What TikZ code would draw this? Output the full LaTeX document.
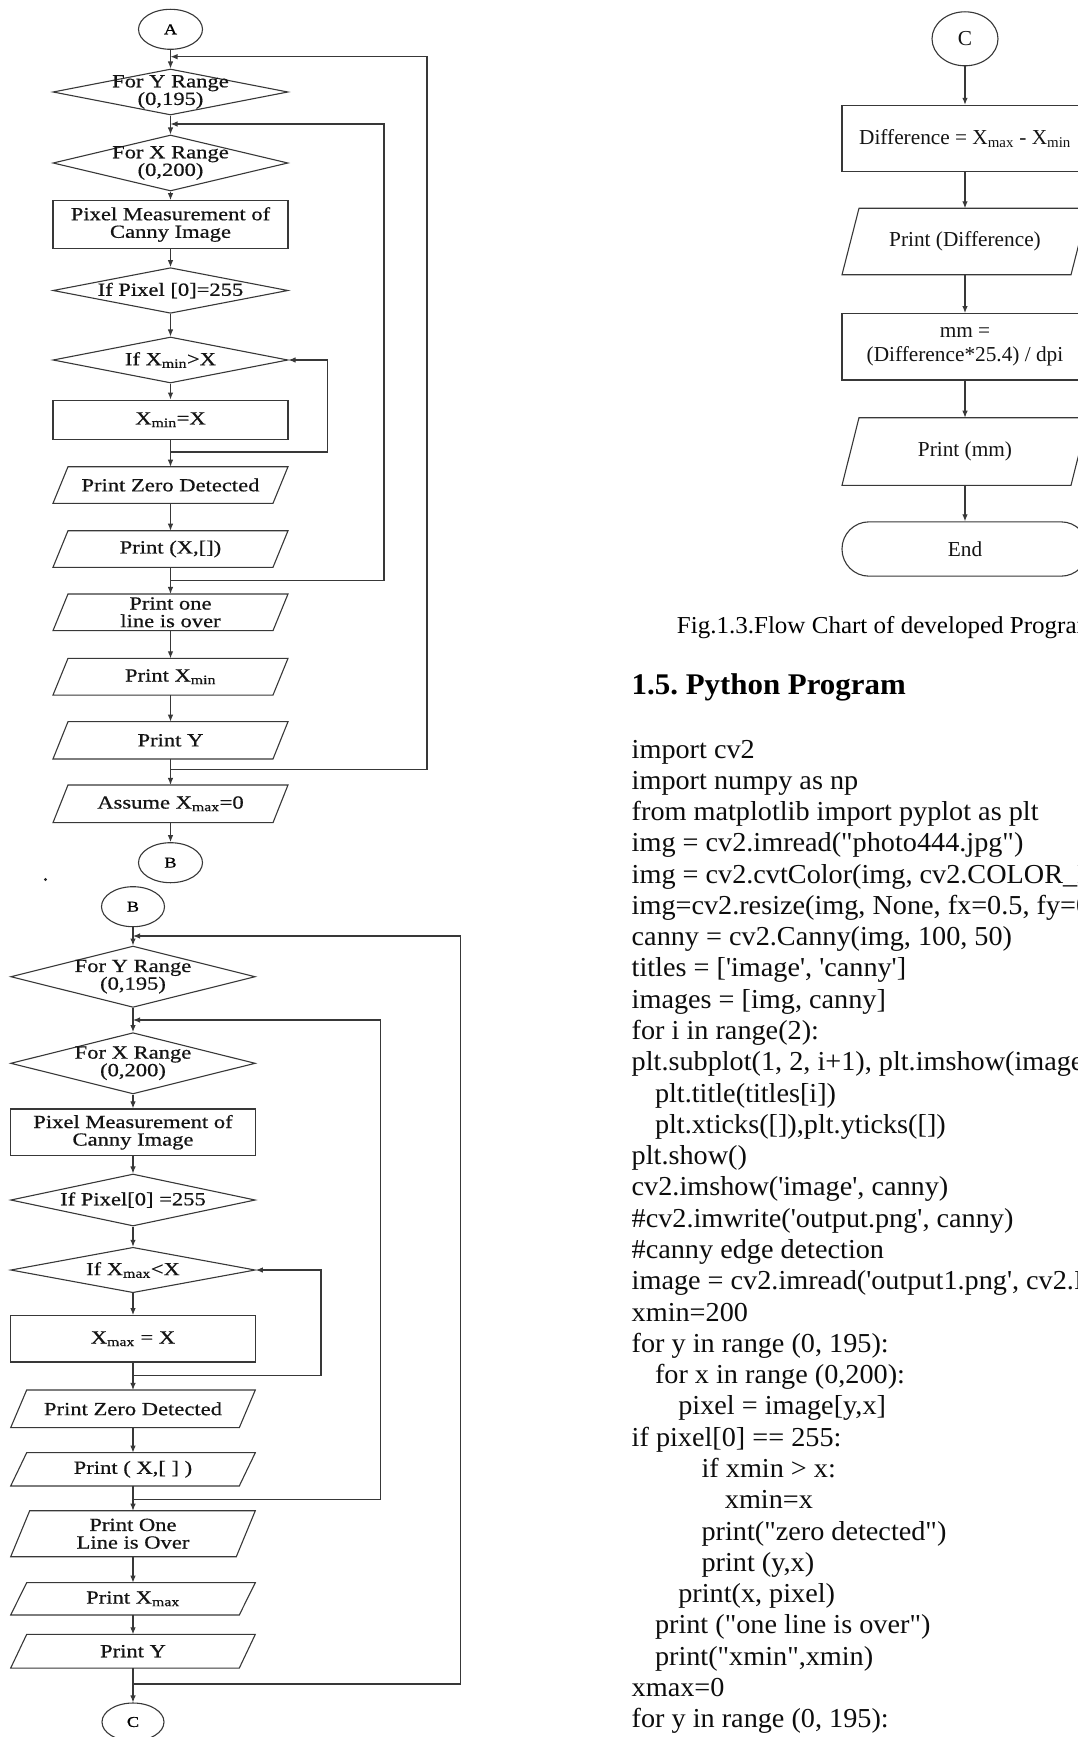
\documentclass[tikz,border=0pt]{standalone}
\usepackage{fontspec}
\setmainfont{Liberation Serif}
\setmonofont{Liberation Serif}[FakeStretch=1.03]
\newfontfamily\chartfont{Liberation Serif}[FakeStretch=1.22,FakeBold=0.6]
\usetikzlibrary{shapes.geometric,arrows.meta}
\tikzset{
  shp/.style={draw=black!78, line width=1.1pt},
  dia/.style={shp, diamond, inner sep=0pt},
  box/.style={shp, rectangle, inner sep=0pt},
  io/.style={rectangle, draw=none, inner sep=0pt, outer sep=0pt},
  ell/.style={shp, ellipse, inner sep=0pt, font=\chartfont\fontsize{15}{15}\selectfont},
  lbl/.style={font=\chartfont\fontsize{18.5}{17.6}\selectfont, align=center, text=black!92, inner sep=0pt},
  rlbl/.style={font=\fontsize{21.3}{24.4}\selectfont, align=center, text=black!92},
  arr/.style={draw=black!78, line width=1.1pt, -{Latex[length=7pt,width=5.5pt]}},
  code/.style={font=\ttfamily\fontsize{27.4}{31}\selectfont, anchor=base west, inner sep=0pt, text=black!95},
}
\newcommand\drawio[2]{\draw[shp] ([xshift=#2pt]#1.north west) -- (#1.north east) -- ([xshift=-#2pt]#1.south east) -- (#1.south west) -- cycle;}
\newcommand\cl[3]{\node[code] (c#1) at ({631.5+23.3*#2},{758+31.28*#1}) {#3};}
\begin{document}
\begin{tikzpicture}[x=1pt,y=-1pt]
\useasboundingbox (0,0) rectangle (1078,1737);
\fill[white] (0,0) rectangle (1078,1737);
\clip (0,0) rectangle (1078,1737);

% ---------------- Chart 1 ----------------
\node[ell, minimum width=64pt, minimum height=40pt] (A) at (170.5,29.3) {A};
\node[dia, minimum width=235pt, minimum height=46pt, label={[lbl]center:{For Y Range\\(0,195)}}] (d1) at (170.5,92) {};
\node[dia, minimum width=235pt, minimum height=56pt, label={[lbl]center:{For X Range\\(0,200)}}] (d2) at (170.5,163) {};
\node[box, lbl, minimum width=235pt, minimum height=47.6pt] (r1) at (170.5,224.5) {Pixel Measurement of\\Canny Image};
\node[dia, minimum width=235pt, minimum height=45.6pt, label={[lbl]center:{If Pixel [0]=255}}] (d3) at (170.5,290.5) {};
\node[dia, minimum width=235pt, minimum height=46pt, label={[lbl]center:{If X\textsubscript{min}>X}}] (d4) at (170.5,360) {};
\node[box, lbl, minimum width=235pt, minimum height=39.3pt] (r2) at (170.5,419.7) {X\textsubscript{min}=X};
\node[io, lbl, minimum width=235pt, minimum height=36.6pt] (p1) at (170.5,485) {Print Zero Detected};
\node[io, lbl, minimum width=235pt, minimum height=36.6pt] (p2) at (170.5,549) {Print (X,[])};
\node[io, lbl, minimum width=235pt, minimum height=36.7pt] (p3) at (170.5,612.3) {Print one\\line is over};
\node[io, lbl, minimum width=235pt, minimum height=36.7pt] (p4) at (170.5,676.7) {Print X\textsubscript{min}};
\node[io, lbl, minimum width=235pt, minimum height=37.3pt] (p5) at (170.5,740.3) {Print Y};
\node[io, lbl, minimum width=235pt, minimum height=37.7pt] (p6) at (170.5,803.8) {Assume X\textsubscript{max}=0};
\node[ell, minimum width=64pt, minimum height=40pt] (B) at (170.5,862.7) {B};
\drawio{p1}{15}\drawio{p2}{15}\drawio{p3}{15}\drawio{p4}{15}\drawio{p5}{15}\drawio{p6}{15}

\coordinate (jA) at (170.5,56.7);
\coordinate (jB) at (170.5,124);
\coordinate (jC) at (170.5,452);
\coordinate (jD) at (170.5,580.7);
\coordinate (jE) at (170.5,769.3);

\draw[arr] (A) -- (d1);
\draw[arr] (d1) -- (d2);
\draw[arr] (d2) -- (r1);
\draw[arr] (r1) -- (d3);
\draw[arr] (d3) -- (d4);
\draw[arr] (d4) -- (r2);
\draw[arr] (r2) -- (p1);
\draw[arr] (p1) -- (p2);
\draw[arr] (p2) -- (p3);
\draw[arr] (p3) -- (p4);
\draw[arr] (p4) -- (p5);
\draw[arr] (p5) -- (p6);
\draw[arr] (p6) -- (B);
\draw[arr] (jC) -- ++(157.2,0) |- (d4.east);
\draw[arr] (jD) -- ++(213.5,0) |- (jB);
\draw[arr] (jE) -- ++(256.5,0) |- (jA);

\fill[black!85] (45.5,879.5) circle (1.6pt);

% ---------------- Chart 2 ----------------
\node[ell, minimum width=63pt, minimum height=40pt] (B2) at (133,906.7) {B};
\node[dia, minimum width=244.6pt, minimum height=61.3pt, label={[lbl]center:{For Y Range\\(0,195)}}] (e1) at (133,976.7) {};
\node[dia, minimum width=244.6pt, minimum height=61.3pt, label={[lbl]center:{For X Range\\(0,200)}}] (e2) at (133,1063.3) {};
\node[box, lbl, minimum width=244.6pt, minimum height=46.7pt] (s1) at (133,1132.3) {Pixel Measurement of\\Canny Image};
\node[dia, minimum width=244.6pt, minimum height=52pt, label={[lbl]center:{If Pixel[0] =255}}] (e3) at (133,1200) {};
\node[dia, minimum width=244.6pt, minimum height=45.4pt, label={[lbl]center:{If X\textsubscript{max}<X}}] (e4) at (133,1270) {};
\node[box, lbl, minimum width=244.6pt, minimum height=46.3pt] (s2) at (133,1338.8) {X\textsubscript{max} = X};
\node[io, lbl, minimum width=244.6pt, minimum height=37.7pt] (q1) at (133,1408.8) {Print Zero Detected};
\node[io, lbl, minimum width=244.6pt, minimum height=33.3pt] (q2) at (133,1469.3) {Print ( X,[ ] )};
\node[io, lbl, minimum width=244.6pt, minimum height=46pt] (q3) at (133,1533.7) {Print One\\Line is Over};
\node[io, lbl, minimum width=244.6pt, minimum height=32.3pt] (q4) at (133,1598.8) {Print X\textsubscript{max}};
\node[io, lbl, minimum width=244.6pt, minimum height=33.7pt] (q5) at (133,1651.2) {Print Y};
\node[ell, minimum width=62pt, minimum height=38pt] (C2) at (133,1722) {C};
\drawio{q1}{16}\drawio{q2}{16}\drawio{q3}{19}\drawio{q4}{16}\drawio{q5}{16}

\coordinate (jF) at (133,936);
\coordinate (jG) at (133,1020);
\coordinate (jH) at (133,1375.3);
\coordinate (jI) at (133,1499.3);
\coordinate (jJ) at (133,1684);

\draw[arr] (B2) -- (e1);
\draw[arr] (e1) -- (e2);
\draw[arr] (e2) -- (s1);
\draw[arr] (s1) -- (e3);
\draw[arr] (e3) -- (e4);
\draw[arr] (e4) -- (s2);
\draw[arr] (s2) -- (q1);
\draw[arr] (q1) -- (q2);
\draw[arr] (q2) -- (q3);
\draw[arr] (q3) -- (q4);
\draw[arr] (q4) -- (q5);
\draw[arr] (q5) -- (C2);
\draw[arr] (jH) -- ++(188,0) |- (e4.east);
\draw[arr] (jI) -- ++(247.7,0) |- (jG);
\draw[arr] (jJ) -- ++(327.7,0) |- (jF);

% ---------------- Chart 3 ----------------
\node[shp, ellipse, inner sep=0pt, minimum width=66pt, minimum height=54pt, rlbl] (C3) at (965,38.8) {C};
\node[box, rlbl, minimum width=246pt, minimum height=66.4pt] (t1) at (965,138.5) {Difference = X\textsubscript{max} - X\textsubscript{min}};
\node[io, rlbl, minimum width=246pt, minimum height=66.5pt] (t2) at (965,241.5) {Print (Difference)};
\node[box, rlbl, minimum width=246pt, minimum height=66.4pt] (t3) at (965,346.8) {mm =\\(Difference*25.4) / dpi};
\node[io, rlbl, minimum width=246pt, minimum height=67.6pt] (t4) at (965,451.5) {Print (mm)};
\node[shp, rectangle, rounded corners=27pt, minimum width=246pt, minimum height=54.3pt, rlbl] (t5) at (965,549) {End};
\drawio{t2}{17}\drawio{t4}{17}
\draw[arr] (C3) -- (t1);
\draw[arr] (t1) -- (t2);
\draw[arr] (t2) -- (t3);
\draw[arr] (t3) -- (t4);
\draw[arr] (t4) -- (t5);

% ---------------- Text ----------------
\node[anchor=base west, inner sep=0pt, font=\ttfamily\fontsize{24.3}{26}\selectfont] (cap) at (676.7,633) {Fig.1.3.Flow Chart of developed Program};
\node[anchor=base west, inner sep=0pt, font=\ttfamily\bfseries\fontsize{30}{32}\selectfont] (hd) at (631.5,694) {1.5. Python Program};

\cl{0}{0}{import cv2}
\cl{1}{0}{import numpy as np}
\cl{2}{0}{from matplotlib import pyplot as plt}
\cl{3}{0}{img = cv2.imread("photo444.jpg")}
\cl{4}{0}{img = cv2.cvtColor(img, cv2.COLOR\_BGR2GRAY)}
\cl{5}{0}{img=cv2.resize(img, None, fx=0.5, fy=0.5)}
\cl{6}{0}{canny = cv2.Canny(img, 100, 50)}
\cl{7}{0}{titles = ['image', 'canny']}
\cl{8}{0}{images = [img, canny]}
\cl{9}{0}{for i in range(2):}
\cl{10}{0}{plt.subplot(1, 2, i+1), plt.imshow(images[i], 'gray')}
\cl{11}{1}{plt.title(titles[i])}
\cl{12}{1}{plt.xticks([]),plt.yticks([])}
\cl{13}{0}{plt.show()}
\cl{14}{0}{cv2.imshow('image', canny)}
\cl{15}{0}{\#cv2.imwrite('output.png', canny)}
\cl{16}{0}{\#canny edge detection}
\cl{17}{0}{image = cv2.imread('output1.png', cv2.IMREAD\_COLOR)}
\cl{18}{0}{xmin=200}
\cl{19}{0}{for y in range (0, 195):}
\cl{20}{1}{for x in range (0,200):}
\cl{21}{2}{pixel = image[y,x]}
\cl{22}{0}{if pixel[0] == 255:}
\cl{23}{3}{if xmin > x:}
\cl{24}{4}{xmin=x}
\cl{25}{3}{print("zero detected")}
\cl{26}{3}{print (y,x)}
\cl{27}{2}{print(x, pixel)}
\cl{28}{1}{print ("one line is over")}
\cl{29}{1}{print("xmin",xmin)}
\cl{30}{0}{xmax=0}
\cl{31}{0}{for y in range (0, 195):}
\end{tikzpicture}
\end{document}
